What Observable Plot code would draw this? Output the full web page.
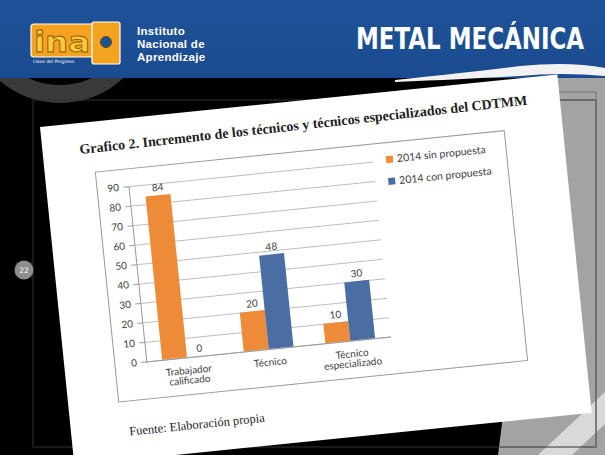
<!DOCTYPE html>
<html><head><meta charset="utf-8">
<script src="https://cdn.jsdelivr.net/npm/d3@7"></script>
<script src="https://cdn.jsdelivr.net/npm/@observablehq/plot@0.6"></script>
<style>
html,body{margin:0;padding:0;}
body{width:605px;height:455px;overflow:hidden;background:#000;position:relative;font-family:Lato,sans-serif;}
#bg{position:absolute;left:0;top:0;}
#inst{position:absolute;left:137px;top:25px;font:bold 11.5px "Liberation Sans",sans-serif;letter-spacing:0.3px;color:#fff;white-space:nowrap;}
#inst div{height:13px;line-height:13px;}
#paper{position:absolute;left:40px;top:127px;width:520px;height:340px;background:#fff;transform-origin:0 0;transform:rotate(-5.8deg);}
#title{position:absolute;left:37px;top:19px;font:bold 14px "Liberation Serif",serif;color:#1e1e1e;white-space:nowrap;transform-origin:0 50%;transform:rotate(-0.5deg);}
#box{position:absolute;left:50px;top:50px;width:410px;height:230px;border:1px solid #9a9a9a;}
#box svg{position:absolute;left:0;top:0;}
.leg{position:absolute;left:290px;font:10.5px Lato,sans-serif;color:#404040;white-space:nowrap;}
.leg i{display:inline-block;width:7px;height:7px;margin-right:4px;vertical-align:0px;}
#source{position:absolute;left:58px;top:305px;font:12.5px "Liberation Serif",serif;color:#1e1e1e;white-space:nowrap;}
</style></head>
<body>
<svg id="bg" width="605" height="455">
  <defs><linearGradient id="hg" x1="0" y1="0" x2="0" y2="1"><stop offset="0" stop-color="#1f5299"/><stop offset="1" stop-color="#1a4b8f"/></linearGradient></defs>
  <polygon points="546,76 605,76 605,455 498,455" fill="#a3a3a3"/>
  <polygon points="538,455 572,455 605,424 605,392" fill="#d9d9d9"/>
  <circle cx="60" cy="10" r="84" fill="none" stroke="#3a3a3a" stroke-width="18"/>
  <rect x="33" y="100" width="563" height="347" fill="none" stroke="#333" stroke-width="1"/>
  <line x1="555" y1="92" x2="596" y2="92" stroke="#777"/>
  <line x1="596" y1="92" x2="596" y2="448" stroke="#777"/>
  <rect x="0" y="0" width="605" height="78" fill="url(#hg)"/>
  <path d="M395,80 Q470,72 520,66 Q570,61 605,68 L605,76 Q560,72 520,76 Q470,79 395,82 Z" fill="#f2f2f2"/>
  <rect x="31" y="24" width="66" height="33" rx="3" fill="#f3a31f" stroke="#fff" stroke-width="1.2"/>
  <rect x="92" y="22" width="28" height="42" rx="2" fill="#f3a31f" stroke="#fff" stroke-width="1.2"/>
  <circle cx="106" cy="42" r="5.5" fill="#1d4f95" stroke="#6b4a10" stroke-width="1"/>
  <text x="34" y="52" font-family="DejaVu Sans" font-weight="bold" font-size="28" fill="#ffc83a" stroke="#8a5a0a" stroke-width="0.8" textLength="56" lengthAdjust="spacingAndGlyphs">ina</text>
  <text x="33" y="63" font-family="DejaVu Sans" font-size="4.5" fill="#fff">Llave del Progreso</text>
  <g transform="translate(356,49) scale(0.765,1)">
    <text x="0" y="0" font-family="'DejaVu Sans',sans-serif" font-weight="bold" font-size="30" fill="#fff">METAL MECÁNICA</text>
  </g>
  <circle cx="24" cy="270" r="9.5" fill="#8d8d8d"/>
  <text x="24" y="272.5" text-anchor="middle" font-family="DejaVu Sans" font-size="7.5" fill="#fff">22</text>
</svg>
<div id="inst"><div>Instituto</div><div>Nacional de</div><div>Aprendizaje</div></div>
<div id="paper">
  <div id="title">Grafico 2. Incremento de los técnicos y técnicos especializados del CDTMM</div>
  <div id="box">
    <div class="leg" style="top:10px"><i style="background:#ee8b38"></i>2014 sin propuesta</div>
    <div class="leg" style="top:32px"><i style="background:#4a6ea3"></i>2014 con propuesta</div>
  </div>
  <div id="source">Fuente: Elaboración propia</div>
</div>
<script>
const categories = ["Trabajador calificado", "Técnico", "Técnico especializado"];
const categoryLabels = ["Trabajador\ncalificado", "Técnico", "Técnico\nespecializado"];
const seriesNames = ["2014 sin propuesta", "2014 con propuesta"];
const sinPropuesta = [84, 20, 10];
const conPropuesta = [0, 48, 30];
const yTicks = [0, 10, 20, 30, 40, 50, 60, 70, 80, 90];
const seriesColors = ["#ee8b38", "#4a6ea3"];

const W = 410, H = 230, ML = 31, MR = 133, MT = 17, MB = 37;
const padInner = 0.39, padOuter = padInner / 2;
const step = (W - ML - MR) / (categories.length - padInner + 2 * padOuter);
const half = step * (1 - padInner) / 2;

const sinRows = categories.map((c, i) => ({cat: c, series: seriesNames[0], value: sinPropuesta[i]}));
const conRows = categories.map((c, i) => ({cat: c, series: seriesNames[1], value: conPropuesta[i]}));
const labelOf = new Map(categories.map((c, i) => [c, categoryLabels[i]]));

const chart = Plot.plot({
  width: W, height: H,
  marginLeft: ML, marginRight: MR, marginTop: MT, marginBottom: MB,
  style: {fontFamily: "Lato, sans-serif", fontSize: "10px", color: "#404040", background: "transparent", overflow: "visible"},
  x: {domain: categories, paddingInner: padInner, paddingOuter: padOuter, label: null},
  y: {domain: [0, 90], label: null},
  marks: [
    Plot.gridY(yTicks, {stroke: "#bdbdbd", strokeOpacity: 1}),
    Plot.axisY(yTicks, {tickSize: 5, tickPadding: 5, stroke: "#9a9a9a", fill: "#404040", fontSize: 10, label: null}),
    Plot.axisX({tickSize: 0, tickPadding: 9, fill: "#404040", fontSize: 10, tickFormat: d => labelOf.get(d), label: null}),
    Plot.frame({anchor: "left", stroke: "#9a9a9a"}),
    Plot.barY(sinRows, {x: "cat", y: "value", fill: seriesColors[0], insetRight: half}),
    Plot.barY(conRows, {x: "cat", y: "value", fill: seriesColors[1], insetLeft: half}),
    Plot.ruleY([0], {stroke: "#9a9a9a"}),
    Plot.text(sinRows, {x: "cat", y: "value", text: d => String(d.value), dx: -half / 2, dy: -8, fill: "#404040", fontSize: 10}),
    Plot.text(conRows, {x: "cat", y: "value", text: d => String(d.value), dx: half / 2, dy: -8, fill: "#404040", fontSize: 10})
  ]
});
document.getElementById("box").prepend(chart);
</script>
</body></html>
